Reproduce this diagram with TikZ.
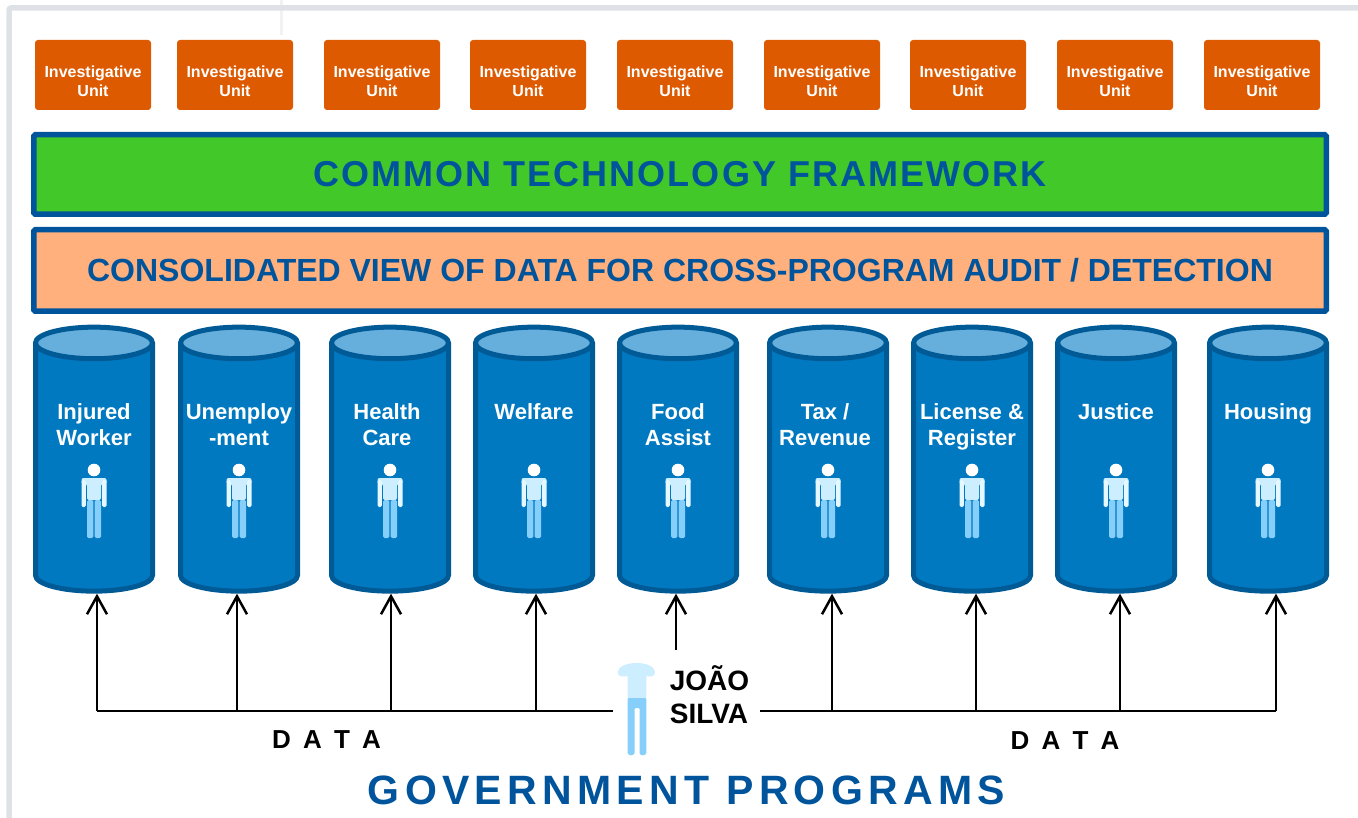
\documentclass[tikz,border=0pt]{standalone}
\usepackage{fontspec}
\setmainfont{Liberation Sans}
\usetikzlibrary{arrows.meta,shapes.geometric}
\definecolor{framegrey}{HTML}{DEE2E6}
\definecolor{unitorange}{HTML}{DD5A00}
\definecolor{barblue}{HTML}{00549C}
\definecolor{bargreen}{HTML}{42C828}
\definecolor{barpeach}{HTML}{FFB07C}
\definecolor{storeblue}{HTML}{0079C1}
\definecolor{storeedge}{HTML}{005A96}
\definecolor{storetop}{HTML}{66AEDC}
\definecolor{shirtblue}{HTML}{CCEEFF}
\definecolor{legblue}{HTML}{85CFFA}
\tikzset{
  person/.pic={
    \fill[white] (0,0) circle (6.3);
    \fill[shirtblue,rounded corners=2] (-12.5,8) -- (12.5,8) -- (12.5,14) -- (7,14) -- (7,30) -- (-7,30) -- (-7,14) -- (-12.5,14) -- cycle;
    \fill[shirtblue!50!white,rounded corners=1.5] (-12.5,10) rectangle (-8.2,37);
    \fill[shirtblue!50!white,rounded corners=1.5] (8.2,10) rectangle (12.5,37);
    \fill[legblue,rounded corners=1.5] (-7,30) rectangle (-0.6,68);
    \fill[legblue,rounded corners=1.5] (0.6,30) rectangle (7,68);
  }
}
\begin{document}
\begin{tikzpicture}[x=1pt,y=-1pt,
    unit node/.style={rectangle,rounded corners=3,fill=unitorange,text=white,minimum width=116,minimum height=70,inner sep=0,text height=43,align=center,font=\fontsize{16}{19}\selectfont\bfseries},
    bar node/.style={rectangle,rounded corners=1.5,draw=barblue,line width=5.5,minimum width=1292.5,inner sep=0,text=barblue},
    store node/.style={cylinder,shape border rotate=90,aspect=0.27,draw=storeedge,line width=5,cylinder uses custom fill,cylinder body fill=storeblue,cylinder end fill=storetop,text width=117,minimum height=264,inner sep=0},
    store label/.style={anchor=base,text=white,inner sep=0,align=center,font=\fontsize{22}{26}\selectfont\bfseries},
    data arrow/.style={-{Straight Barb[length=18,width=20]},line width=2.5,black},
    bus/.style={line width=2,black},
    data label/.style={inner sep=0,font=\fontsize{26}{30}\selectfont\bfseries}]
    \useasboundingbox (0,0) rectangle (1358,818);

    \draw[framegrey!45!white,line width=3] (281,0) -- (281,35);
    \draw[framegrey,line width=5.5,rounded corners=2] (9,818) -- (9,8) -- (1358,8);

    \node[unit node] at (93,75) (u1) {Investigative\\Unit};
    \node[unit node] at (235,75) (u2) {Investigative\\Unit};
    \node[unit node] at (382,75) (u3) {Investigative\\Unit};
    \node[unit node] at (528,75) (u4) {Investigative\\Unit};
    \node[unit node] at (675,75) (u5) {Investigative\\Unit};
    \node[unit node] at (822,75) (u6) {Investigative\\Unit};
    \node[unit node] at (968,75) (u7) {Investigative\\Unit};
    \node[unit node] at (1115,75) (u8) {Investigative\\Unit};
    \node[unit node] at (1262,75) (u9) {Investigative\\Unit};

    \node[bar node,fill=bargreen,minimum height=79.5] at (680,174.5) (tech) {\fontsize{36}{40}\selectfont\bfseries\addfontfeature{LetterSpace=5.6}COMMON TECHNOLOGY FRAMEWORK};
    \node[bar node,fill=barpeach,minimum height=81.5] at (680,270.5) (view) {\fontsize{32}{36}\selectfont\bfseries CONSOLIDATED VIEW OF DATA FOR CROSS-PROGRAM AUDIT / DETECTION};

    \node[store node] at (94,468.3) (s1) {};
    \node[store node] at (239,468.3) (s2) {};
    \node[store node] at (390,468.3) (s3) {};
    \node[store node] at (534,468.3) (s4) {};
    \node[store node] at (678,468.3) (s5) {};
    \node[store node] at (828,468.3) (s6) {};
    \node[store node] at (972,468.3) (s7) {};
    \node[store node] at (1116,468.3) (s8) {};
    \node[store node] at (1268,468.3) (s9) {};

    \node[store label] at (94,445) (l1) {Injured\\Worker};
    \node[store label] at (239,445) (l2) {Unemploy\\-ment};
    \node[store label] at (387,445) (l3) {Health\\Care};
    \node[store label] at (534,419) (l4) {Welfare};
    \node[store label] at (678,445) (l5) {Food\\Assist};
    \node[store label] at (825,445) (l6) {Tax /\\Revenue};
    \node[store label] at (972,445) (l7) {License \&\\Register};
    \node[store label] at (1116,419) (l8) {Justice};
    \node[store label] at (1268,419) (l9) {Housing};

    \pic at (94,470) {person};
    \pic at (239,470) {person};
    \pic at (390,470) {person};
    \pic at (534,470) {person};
    \pic at (678,470) {person};
    \pic at (828,470) {person};
    \pic at (972,470) {person};
    \pic at (1116,470) {person};
    \pic at (1268,470) {person};

    \fill[shirtblue] (617.7,672) .. controls (619,660) and (654,660) .. (655,672) .. controls (655,677) and (650,677) .. (646.3,676) -- (646.3,698) -- (627.7,698) -- (627.7,676) .. controls (623,677) and (617.7,677) .. (617.7,672) -- cycle;
    \fill[legblue,rounded corners=1] (627.7,698) -- (646.3,698) -- (646.3,752) arc[start angle=0,end angle=180,radius=3.4] -- (639.5,708) -- (634.5,708) -- (634.5,752) arc[start angle=0,end angle=180,radius=3.4] -- cycle;

    \node[inner sep=9,align=left,font=\fontsize{28}{33}\selectfont\bfseries] at (709.5,695) (joao) {JOÃO\\SILVA};

    \coordinate (b1) at (97,710.5);
    \coordinate (b2) at (237,710.5);
    \coordinate (b3) at (391,710.5);
    \coordinate (b4) at (536,710.5);
    \coordinate (b5) at (676,650);
    \coordinate (b6) at (832,711);
    \coordinate (b7) at (976,711);
    \coordinate (b8) at (1120,711);
    \coordinate (b9) at (1276,711);
    \coordinate (busleft) at (613,710.5);
    \coordinate (busright) at (760,711);

    \path[bus] (b1) edge (busleft);
    \path[bus] (busright) edge (b9);
    \path[data arrow] (b1) edge (b1 |- s1.south);
    \path[data arrow] (b2) edge (b2 |- s2.south);
    \path[data arrow] (b3) edge (b3 |- s3.south);
    \path[data arrow] (b4) edge (b4 |- s4.south);
    \path[data arrow] (b5) edge (b5 |- s5.south);
    \path[data arrow] (b6) edge (b6 |- s6.south);
    \path[data arrow] (b7) edge (b7 |- s7.south);
    \path[data arrow] (b8) edge (b8 |- s8.south);
    \path[data arrow] (b9) edge (b9 |- s9.south);

    \node[data label] at (326.5,740) (data1) {\addfontfeature{LetterSpace=19}D A T A};
    \node[data label] at (1065,741) (data2) {\addfontfeature{LetterSpace=19}D A T A};
    \node[inner sep=0,text=barblue,font=\fontsize{41}{46}\selectfont\bfseries] at (686.5,790) (programs) {\addfontfeature{LetterSpace=13}GOVERNMENT PROGRAMS};

\end{tikzpicture}
\end{document}
